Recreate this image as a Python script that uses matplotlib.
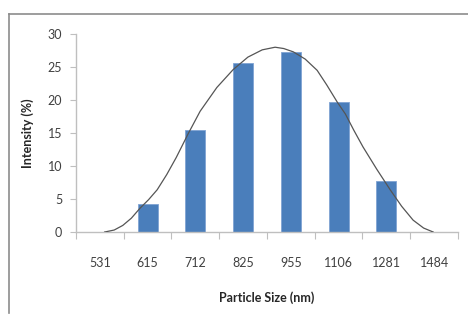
import matplotlib
matplotlib.use("Agg")
import matplotlib.pyplot as plt
from matplotlib.lines import Line2D

plt.rcParams["font.family"] = ["Lato", "DejaVu Sans"]

# Particle size distribution
sizes = ["531", "615", "712", "825", "955", "1106", "1281", "1484"]
intensity = [0, 4.3, 15.4, 25.6, 27.3, 19.7, 7.7, 0]

# Fitted distribution curve (category position, intensity %)
fit_pos = [0.10, 0.30, 0.48, 0.66, 0.84, 1.02, 1.20, 1.40, 1.60, 1.85, 2.10,
           2.45, 2.79, 3.10, 3.40, 3.67, 3.85, 4.05, 4.30, 4.55, 4.75, 4.97,
           5.14, 5.32, 5.51, 5.80, 6.08, 6.32, 6.56, 6.78, 6.98]
fit_val = [0.0, 0.3, 1.0, 2.1, 3.6, 4.9, 6.4, 8.7, 11.3, 14.9, 18.3,
           21.9, 24.6, 26.5, 27.6, 28.0, 27.8, 27.3, 26.2, 24.5, 22.3, 19.7,
           17.9, 15.4, 12.9, 9.5, 6.4, 3.9, 1.8, 0.6, 0.0]

fig = plt.figure(figsize=(4.68, 3.23), dpi=100)
ax = fig.add_axes([0.1624, 0.2817, 0.8162, 0.613])

x = range(len(sizes))
ax.bar(x, intensity, width=0.42, color="#4a7ebb", edgecolor="#7fa3d3",
       linewidth=0.6, zorder=2)
ax.plot(fit_pos, fit_val, color="#555555", linewidth=0.9, zorder=3,
        solid_joinstyle="round")

ax.set_xlim(-0.5, len(sizes) - 0.5)
ax.set_ylim(0, 30)
ax.set_yticks(range(0, 31, 5))

# category labels centred, tick marks on the boundaries
ax.set_xticks(list(x))
ax.set_xticklabels(sizes)
ax.set_xticks([i - 0.5 for i in range(len(sizes) + 1)], minor=True)
ax.tick_params(axis="x", which="major", length=0, pad=18,
               labelsize=9, labelcolor="#404040")
ax.tick_params(axis="x", which="minor", length=5, width=0.8,
               color="#bfbfbf", direction="out")
ax.tick_params(axis="y", length=4, width=0.8, color="#bfbfbf",
               labelsize=9, labelcolor="#404040", pad=6)

for side in ("top", "right"):
    ax.spines[side].set_visible(False)
for side in ("left", "bottom"):
    ax.spines[side].set_color("#bfbfbf")
    ax.spines[side].set_linewidth(1.0)

ax.set_xlabel("Particle Size (nm)", fontsize=9, fontweight="bold",
              color="#262626", labelpad=16)
ax.set_ylabel("Intensity (%)", fontsize=9, fontweight="bold",
              color="#262626", labelpad=10)

# outer chart frame
fig.add_artist(Line2D([9 / 468, 1.0], [1 - 14 / 323, 1 - 14 / 323],
                      transform=fig.transFigure, color="#8c8c8c", linewidth=1.2))
fig.add_artist(Line2D([9 / 468, 9 / 468], [1 - 14 / 323, 1 - 313 / 323],
                      transform=fig.transFigure, color="#8c8c8c", linewidth=1.2))

fig.savefig("out.png", dpi=100, facecolor="white")
